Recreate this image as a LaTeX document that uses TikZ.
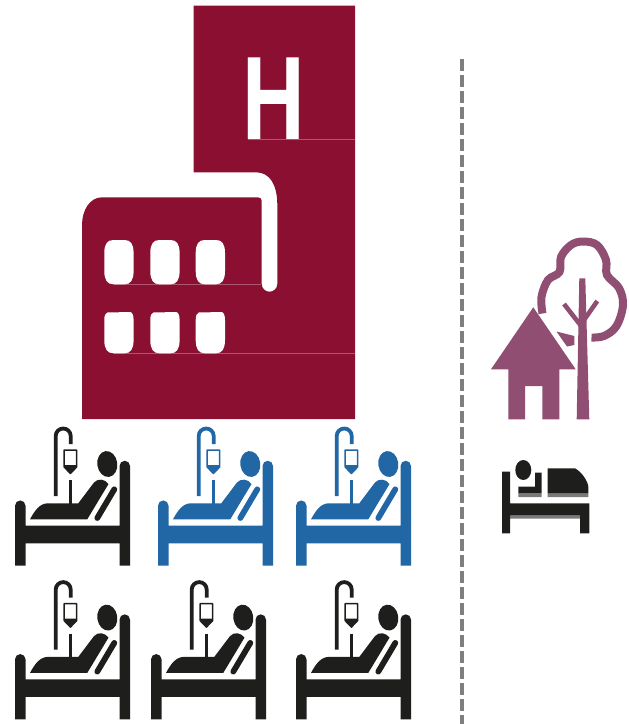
\documentclass[tikz,border=0pt]{standalone}
\usepackage{fontspec}
\setmainfont{Liberation Sans}
\definecolor{maroon}{HTML}{8A0F31}
\definecolor{iconblue}{HTML}{2166A5}
\definecolor{iconblack}{HTML}{1E1E1C}
\definecolor{plum}{HTML}{904F72}
\definecolor{dashgray}{HTML}{7F7F7F}
\definecolor{shadow}{HTML}{7A7A7A}
\tikzset{
  pics/patient/.style={code={
    \fill[#1] (15,145.7) -- (15,85.7) arc[start angle=180,end angle=360,radius=5.25] -- (25.5,105.7) -- (119.5,105.7)
      -- (119.5,46) arc[start angle=180,end angle=360,radius=5.25] -- (130,145.7) -- (119.5,145.7) -- (119.5,123.3) -- (25.5,123.3) -- (25.5,145.7) -- cycle;
    \fill[#1,rotate around={8:(107.3,44)}] (107.3,44) ellipse[x radius=10,y radius=13];
    \fill[#1] (30,99.3) .. controls (35,90) and (40,83.3) .. (48,83.3) -- (78.3,83.3) -- (94,62.5)
      .. controls (98,58) and (105,59) .. (108.5,64) -- (87.3,99.3) -- cycle;
    \draw[#1,line width=5.8pt,line cap=round] (114.3,69.3) -- (97.3,98);
    \draw[#1,line width=3.8pt] (55.7,76) -- (55.7,16) arc[start angle=180,end angle=360,radius=7.5] -- (70.7,24);
    \draw[#1,line width=1.5pt,line join=round] (64.2,30) -- (76.6,30) -- (76.6,47) -- (70.4,53.5) -- (64.2,47) -- cycle;
    \fill[#1] (64.2,45) -- (76.6,45) -- (76.6,47) -- (70.4,53.5) -- (64.2,47) -- cycle;
    \draw[#1,line width=3.2pt] (70.4,60) -- (70.4,85);
  }},
  windowshape/.style={white}
}
\begin{document}
\begin{tikzpicture}[x=1pt,y=-1pt]
\useasboundingbox (0,0) rectangle (629,724);
% building
\fill[maroon] (193.7,5.7) -- (355,5.7) -- (355,419) -- (82,419) -- (82,225)
  .. controls (82,210) and (90,197.3) .. (102,197.3) -- (258,197.3) .. controls (260.5,197.3) and (261.7,199) .. (261.7,201)
  -- (261.7,284) arc[start angle=180,end angle=0,x radius=7.8,y radius=7.7] -- (277.3,205)
  .. controls (277.3,185) and (270,172.3) .. (256,172.3) -- (193.7,172.3) -- cycle;
\draw[white,opacity=.3,line width=.5pt] (114,284.3) -- (261,284.3) (114,353.3) -- (355,353.3) (248,139) -- (355,139);
\foreach \x in {104.3,150.3,195.7}{
  \fill[windowshape] (\x,253) .. controls (\x,244) and ({\x+3},240) .. ({\x+9},240) -- ({\x+20.3},240)
    .. controls ({\x+26.3},240) and ({\x+29.3},244) .. ({\x+29.3},253) -- ({\x+29.3},271)
    .. controls ({\x+29.3},280) and ({\x+26.3},284.3) .. ({\x+20.3},284.3) -- ({\x+9},284.3)
    .. controls ({\x+3},284.3) and (\x,280) .. (\x,271) -- cycle;
  \fill[windowshape] (\x,320) .. controls (\x,316) and ({\x+1},313) .. ({\x+3},312.5) -- ({\x+26},312)
    .. controls ({\x+28.3},312.5) and ({\x+29.3},316) .. ({\x+29.3},320) -- ({\x+29.3},340)
    .. controls ({\x+29.3},349) and ({\x+26.3},353.3) .. ({\x+20.3},353.3) -- ({\x+9},353.3)
    .. controls ({\x+3},353.3) and (\x,349) .. (\x,340) -- cycle;
}
\node[anchor=base,inner sep=0pt,white,xscale=.73] (hsign) at (273.7,139) {\fontsize{118.7pt}{118.7pt}\selectfont\bfseries H};
% dashed divider
\coordinate (divtop) at (461.5,59);
\coordinate (divbot) at (461.5,724);
\draw[dashgray,line width=4pt,dash pattern=on 12pt off 4pt] (divtop) -- (divbot);
% house and tree
\fill[plum] (533.3,307.3) -- (575.7,369.3) -- (559.3,369.3) -- (559.3,419.3) -- (542.3,419.3) -- (542.3,386) -- (525,386) -- (525,419.3)
  -- (508.3,419.3) -- (508.3,369.3) -- (491,369.3) -- cycle;
\fill[plum] (579.3,278.3) -- (585.3,278.3) -- (589.3,419.3) -- (576.7,419.3) -- cycle;
\draw[plum,line width=4.6pt] (564,304) -- (581.7,326.7) (597.3,301) -- (581.7,323.3);
\draw[plum,line width=8pt] plot[smooth,tension=.6] coordinates {(542.5,313.5) (541.5,297) (548,280) (559.5,272) (561,257) (571,245) (583,241.5) (597,245) (606,260) (607,275) (619,288) (623,305) (616.5,326) (604,336) (591.5,337.5)};
\fill[plum] (556.5,331.5) -- (574.3,336) -- (574.3,345) -- (567,346.5) -- cycle;
% small bed
\fill[shadow] (510,515) rectangle (580,518.5) (518.3,493.3) rectangle (541.7,497) (547.7,493) rectangle (588.3,497);
\fill[iconblack] (502,533.3) -- (502,471.7) -- (510,471.7) -- (510,503.3) -- (589.3,503.3) -- (589.3,533.3) -- (580,533.3) -- (580,515) -- (510,515) -- (510,533.3) -- cycle;
\fill[iconblack] (523.3,470) ellipse[x radius=8,y radius=10];
\fill[iconblack] (518.3,486.7) -- (535,486.7) -- (535,472.7) -- (541.7,472.7) -- (541.7,493.3) -- (518.3,493.3) -- cycle;
\fill[iconblack] (547.7,468.3) -- (575,468.3) .. controls (582,472) and (588.3,482) .. (588.3,487) -- (588.3,493) -- (547.7,493) -- cycle;
% patient icons
\pic at (0,420) {patient={iconblack}};
\pic at (143,420) {patient={iconblue}};
\pic at (281,420) {patient={iconblue}};
\pic at (0,573.6) {patient={iconblack}};
\pic at (136,573.6) {patient={iconblack}};
\pic at (281,573.6) {patient={iconblack}};
\end{tikzpicture}
\end{document}
